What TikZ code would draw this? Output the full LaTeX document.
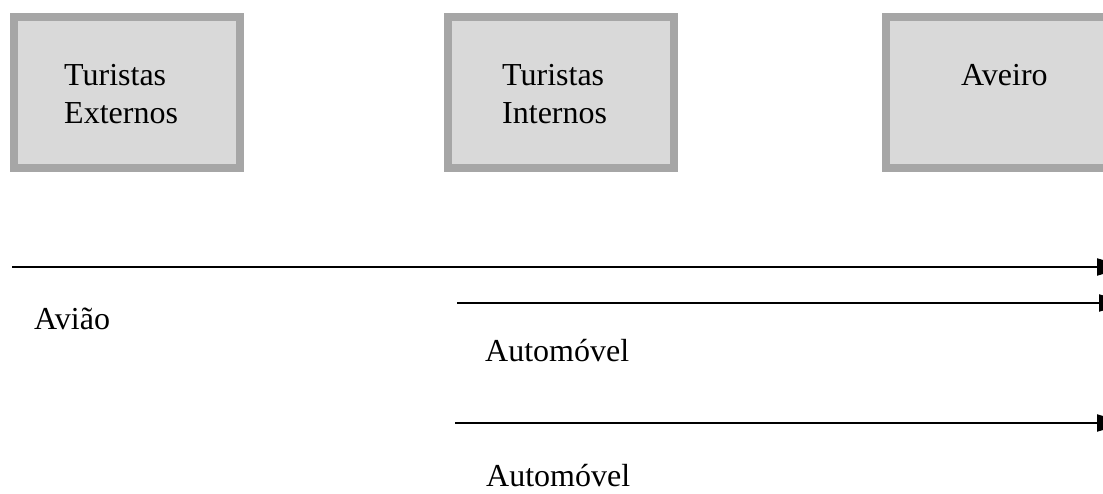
\documentclass[tikz,border=0pt]{standalone}
\usepackage{fontspec}
\setmainfont{Liberation Serif}
\usetikzlibrary{arrows.meta}
\definecolor{boxfill}{HTML}{D9D9D9}
\definecolor{boxrule}{HTML}{A6A6A6}
\tikzset{
  place/.style={draw=boxrule, fill=boxfill, line width=8pt, rectangle,
    minimum width=226pt, minimum height=151pt, inner sep=0pt, outer sep=0pt,
    anchor=north west},
  caption/.style={anchor=base west, inner sep=0pt, font=\fontsize{32pt}{38pt}\selectfont},
  route/.style={line width=2pt, -{Triangle[length=30pt,width=17pt]}}
}
\begin{document}
\begin{tikzpicture}[x=1pt,y=-1pt]
  \useasboundingbox (0,0) rectangle (1103,493);
  \clip (0,0) rectangle (1103,493);
  % origin groups and destination
  \node[place] (ext) at (14,17) {};
  \node[place] (int) at (448,17) {};
  \node[place] (ave) at (886,17) {};
  \node[caption] (t1) at (64,85) {Turistas};
  \node[caption] (e1) at (64,123) {Externos};
  \node[caption] (t2) at (502,85) {Turistas};
  \node[caption] (i2) at (502,123) {Internos};
  \node[caption] (av) at (961,85) {Aveiro};
  % travel routes
  \coordinate (a0) at (12,267);   \coordinate (a1) at (1127,267);
  \coordinate (b0) at (457,303);  \coordinate (b1) at (1129,303);
  \coordinate (c0) at (455,423);  \coordinate (c1) at (1127,423);
  \draw[route] (a0) -- (a1);
  \draw[route] (b0) -- (b1);
  \draw[route] (c0) -- (c1);
  \node[caption] (l1) at (34,329) {Avião};
  \node[caption] (l2) at (485,361) {Automóvel};
  \node[caption] (l3) at (486,486) {Automóvel};
\end{tikzpicture}
\end{document}
